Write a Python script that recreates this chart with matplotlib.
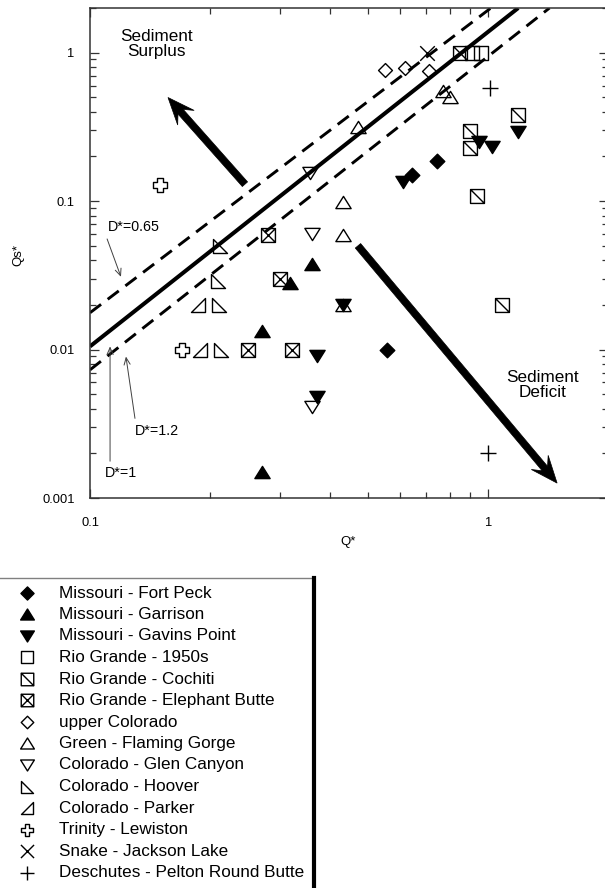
import numpy as np
import matplotlib.pyplot as plt
from matplotlib.path import Path
from matplotlib.patches import Polygon
from matplotlib.ticker import LogLocator, FormatStrFormatter, NullFormatter

plt.rcParams['font.family'] = ['Liberation Sans', 'DejaVu Sans']
plt.rcParams['lines.scale_dashes'] = False

# values: (Q*, Qs*)
fort_peck_q = [0.745, 0.644, 0.557]
fort_peck_qs = [0.185, 0.149, 0.010]
garrison_q = [0.361, 0.318, 0.270, 0.270]
garrison_qs = [0.0378, 0.028, 0.0134, 0.0015]
gavins_q = [0.611, 0.949, 1.02, 1.19, 0.372, 0.372, 0.433]
gavins_qs = [0.134, 0.249, 0.230, 0.29, 0.0091, 0.0048, 0.020]
rio_1950_q = [0.912, 0.96]
rio_1950_qs = [1.0, 1.0]
cochiti_q = [0.851, 1.19, 0.902, 0.902, 0.938, 1.084]
cochiti_qs = [1.0, 0.378, 0.295, 0.227, 0.108, 0.020]
elephant_q = [0.280, 0.300, 0.249, 0.322]
elephant_qs = [0.059, 0.030, 0.010, 0.010]
upper_col_q = [0.551, 0.618, 0.711]
upper_col_qs = [0.769, 0.79, 0.757]
flaming_q = [0.471, 0.77, 0.80, 0.433, 0.433, 0.433]
flaming_qs = [0.314, 0.55, 0.50, 0.098, 0.059, 0.020]
glen_q = [0.357, 0.361, 0.361]
glen_qs = [0.154, 0.060, 0.0041]
hoover_q = [0.212, 0.210, 0.211, 0.213]
hoover_qs = [0.050, 0.029, 0.020, 0.010]
parker_q = [0.187, 0.189]
parker_qs = [0.020, 0.010]
trinity_q = [0.150, 0.170]
trinity_qs = [0.128, 0.010]
snake_q = [0.703]
snake_qs = [1.0]
deschutes_q = [1.01, 1.0]
deschutes_qs = [0.58, 0.002]

labels = ['Missouri - Fort Peck', 'Missouri - Garrison', 'Missouri - Gavins Point',
          'Rio Grande - 1950s', 'Rio Grande - Cochiti', 'Rio Grande - Elephant Butte',
          'upper Colorado', 'Green - Flaming Gorge', 'Colorado - Glen Canyon',
          'Colorado - Hoover', 'Colorado - Parker', 'Trinity - Lewiston',
          'Snake - Jackson Lake', 'Deschutes - Pelton Round Butte']
series_q = [fort_peck_q, garrison_q, gavins_q, rio_1950_q, cochiti_q, elephant_q,
            upper_col_q, flaming_q, glen_q, hoover_q, parker_q, trinity_q,
            snake_q, deschutes_q]
series_qs = [fort_peck_qs, garrison_qs, gavins_qs, rio_1950_qs, cochiti_qs, elephant_qs,
             upper_col_qs, flaming_qs, glen_qs, hoover_qs, parker_qs, trinity_qs,
             snake_qs, deschutes_qs]

# D* lines (end points)
d1_q, d1_qs = [0.1, 1.19], [0.0105, 2.0]
d065_q, d065_qs = [0.1, 1.016], [0.0177, 2.0]
d12_q, d12_qs = [0.1, 1.426], [0.0073, 2.0]

# marker shapes
M, L, C = Path.MOVETO, Path.LINETO, Path.CLOSEPOLY
def poly(pts):
    return Path(pts + [pts[0]], [M] + [L] * (len(pts) - 1) + [C])

square = poly([(-1, -1), (1, -1), (1, 1), (-1, 1)])
sq_diag = Path(square.vertices.tolist() + [(-1, 1), (1, -1)], list(square.codes) + [M, L])
sq_x = Path(sq_diag.vertices.tolist() + [(-1, -1), (1, 1)], list(sq_diag.codes) + [M, L])
diamond = poly([(0, 1), (1, 0), (0, -1), (-1, 0)])
tri_up = poly([(0, 0.8), (-1, -0.8), (1, -0.8)])
tri_down = poly([(0, -0.8), (-1, 0.8), (1, 0.8)])
tri_hoover = poly([(-1, 1), (-1, -1), (1, -1)])
tri_parker = poly([(1, 1), (1, -1), (-1, -1)])
a = 0.42
cross_open = poly([(-a, 1), (a, 1), (a, a), (1, a), (1, -a), (a, -a), (a, -1), (-a, -1),
                   (-a, -a), (-1, -a), (-1, a), (-a, a)])
x_mark = Path([(-1, -1), (1, 1), (-1, 1), (1, -1)], [M, L, M, L])
plus_mark = Path([(-1, 0), (1, 0), (0, -1), (0, 1)], [M, L, M, L])

styles = [(diamond, True, 10.5), (tri_up, True, 11), (tri_down, True, 11),
          (square, False, 10), (sq_diag, False, 10), (sq_x, False, 10),
          (diamond, False, 10), (tri_up, False, 11), (tri_down, False, 11),
          (tri_hoover, False, 9.5), (tri_parker, False, 9.5), (cross_open, False, 9.5),
          (x_mark, False, 10.5), (plus_mark, False, 11)]

W, H = 605, 888
fig = plt.figure(figsize=(W / 100, H / 100), dpi=100)
ax = fig.add_axes([90 / W, 1 - 498 / H, (608 - 90) / W, (498 - 8) / H])
ax.set_xscale('log')
ax.set_yscale('log')
ax.set_xlim(0.1, 2)
ax.set_ylim(0.001, 2)

ax.plot(d1_q, d1_qs, color='k', lw=2.9, solid_capstyle='butt', zorder=2)
for qq, ss in [(d065_q, d065_qs), (d12_q, d12_qs)]:
    ax.plot(qq, ss, color='k', lw=2.1, dashes=(10, 6), dash_capstyle='butt', zorder=2)

for qq, ss, (mk, filled, ms) in zip(series_q, series_qs, styles):
    ax.plot(qq, ss, ls='none', marker=mk, ms=ms, mfc='k' if filled else 'none',
            mec='k', mew=1.0, zorder=3)

def big_arrow(tail, tip, w=7, hl=27, hw=11, notch=8):
    p0 = ax.transData.transform(tail)
    p1 = ax.transData.transform(tip)
    u = (p1 - p0) / np.hypot(*(p1 - p0))
    n = np.array([-u[1], u[0]])
    pts = [p0 + n * w / 2, p1 - u * (hl - notch) + n * w / 2, p1 - u * hl + n * hw, p1,
           p1 - u * hl - n * hw, p1 - u * (hl - notch) - n * w / 2, p0 - n * w / 2]
    ax.add_patch(Polygon(ax.transData.inverted().transform(pts), closed=True,
                         fc='k', ec='k', lw=0.5, zorder=4))

big_arrow((0.245, 0.130), (0.157, 0.499))
big_arrow((0.471, 0.050), (1.49, 0.00126))

ax.text(0.147, 1.15, 'Sediment\nSurplus', ha='center', va='center', fontsize=12.3,
        linespacing=1.0)
ax.text(1.37, 0.0058, 'Sediment\nDeficit', ha='center', va='center', fontsize=12.3,
        linespacing=1.0)

lead = dict(arrowstyle='->,head_length=0.5,head_width=0.22', color='0.25', lw=0.7,
            shrinkA=0, shrinkB=0)
ax.annotate('', xy=(0.1196, 0.0309), xytext=(0.1104, 0.0556), arrowprops=lead)
ax.text(0.111, 0.067, 'D*=0.65', ha='left', va='center', fontsize=10.3)
ax.annotate('', xy=(0.1231, 0.00897), xytext=(0.1297, 0.00344), arrowprops=lead)
ax.text(0.1297, 0.00282, 'D*=1.2', ha='left', va='center', fontsize=10.3)
ax.annotate('', xy=(0.1123, 0.0105), xytext=(0.1123, 0.00177), arrowprops=lead)
ax.text(0.109, 0.00147, 'D*=1', ha='left', va='center', fontsize=10.3)

ax.xaxis.set_major_formatter(FormatStrFormatter('%g'))
ax.yaxis.set_major_formatter(FormatStrFormatter('%g'))
ax.xaxis.set_minor_formatter(NullFormatter())
ax.yaxis.set_minor_formatter(NullFormatter())
ax.xaxis.set_minor_locator(LogLocator(subs=np.arange(2, 10)))
ax.yaxis.set_minor_locator(LogLocator(subs=np.arange(2, 10)))
ax.tick_params(which='both', direction='in', top=True, right=True, color='0.2', width=0.9)
ax.tick_params(which='major', length=6.5, labelsize=9.3)
ax.tick_params(which='minor', length=4)
ax.tick_params(axis='x', pad=14)
ax.tick_params(axis='y', pad=11)
for sp in ax.spines.values():
    sp.set_linewidth(1.1)
    sp.set_color('0.2')

fig.text(348 / W, 1 - 542 / H, 'Q*', ha='center', va='center', fontsize=9.5)
fig.text(18 / W, 1 - 255 / H, 'Qs*', ha='center', va='center', fontsize=9.5, rotation=90)

# legend drawn in pixel space of the lower part of the figure
lax = fig.add_axes([0, 0, 1, 318 / H])
lax.set_xlim(0, W)
lax.set_ylim(H, H - 318)
lax.axis('off')
for i, (lab, (mk, filled, ms)) in enumerate(zip(labels, styles)):
    y = 593 + i * 21.5
    lax.plot([27], [y], ls='none', marker=mk, ms=ms * 0.9, mfc='k' if filled else 'none',
             mec='k', mew=1.0)
    lax.text(59, y, lab, fontsize=12.3, va='center', ha='left')
lax.plot([-2, 312], [578, 578], color='0.5', lw=1.0, clip_on=False)
lax.plot([314, 314], [578, 892], color='k', lw=3.0, clip_on=False)

fig.savefig('out.png', dpi=100)
